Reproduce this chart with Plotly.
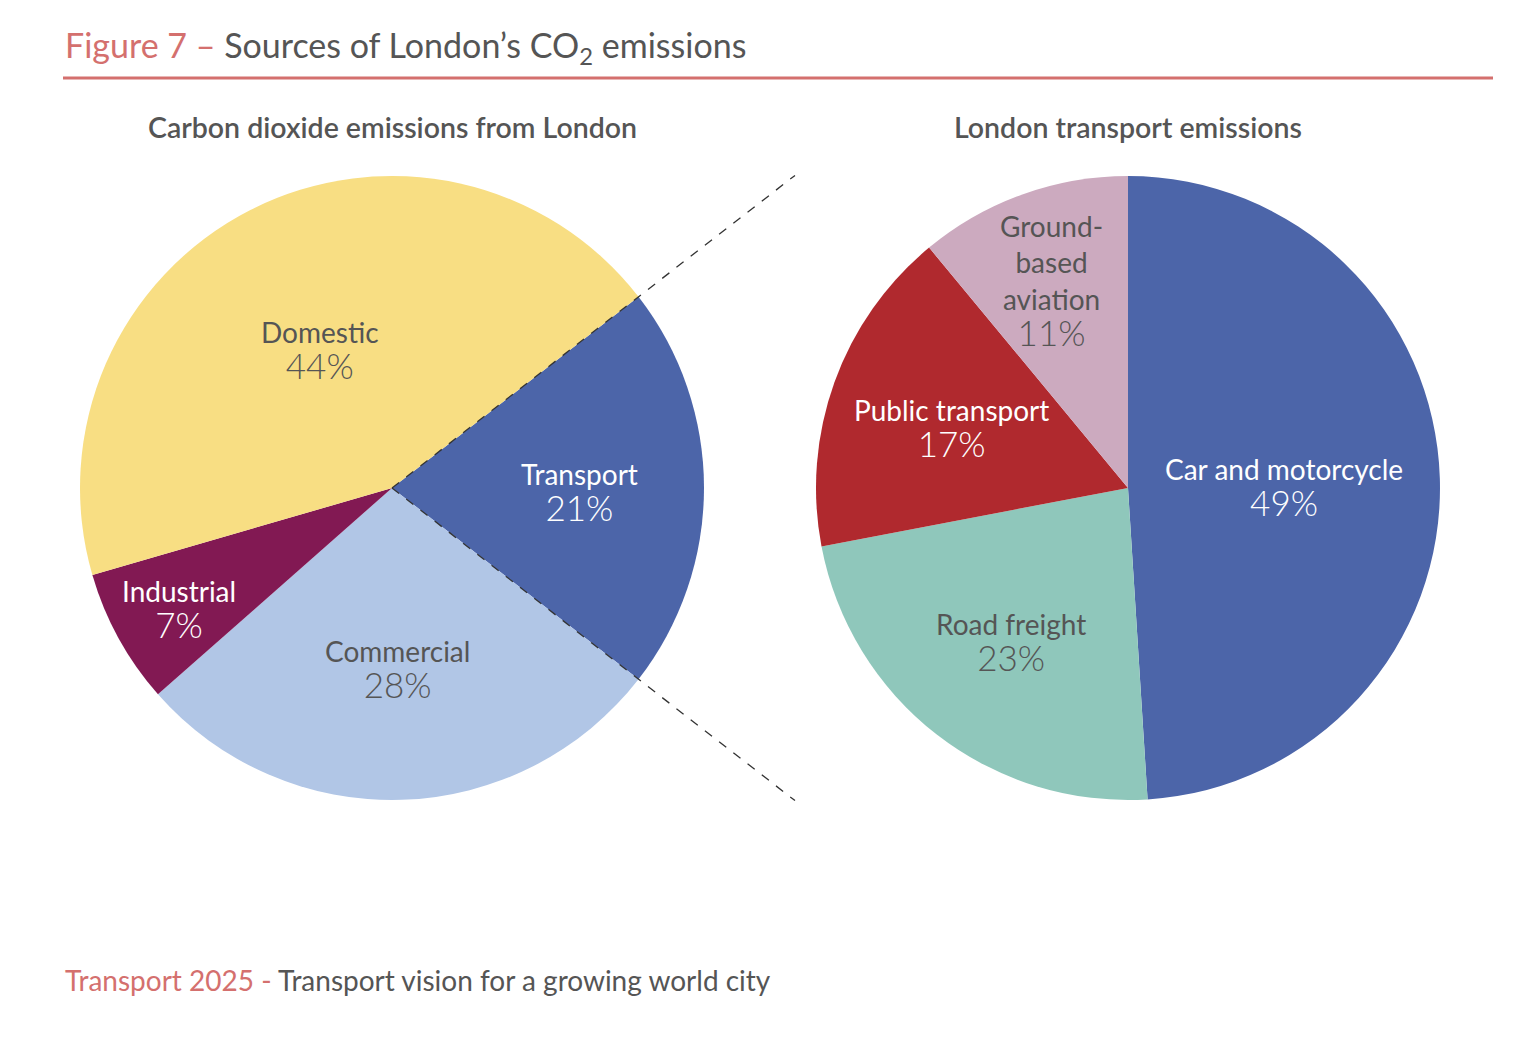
import math
import plotly.graph_objects as go

# data
london_labels = ['Transport', 'Commercial', 'Industrial', 'Domestic']
london_values = [21, 28, 7, 44]
london_colors = ['#4C65A9', '#B1C6E6', '#821953', '#F8DE83']

transport_labels = ['Car and motorcycle', 'Road freight', 'Public transport', 'Ground-based aviation']
transport_names = ['Car and motorcycle', 'Road freight', 'Public transport', 'Ground-<br>based<br>aviation']
transport_values = [49, 23, 17, 11]
transport_colors = ['#4C65A9', '#8FC7BB', '#B0292E', '#CCAABF']

# the page body keeps its default 8px margin, so the figure is drawn 8px in
PAGE_OFF = 8
W, H = 1536 - PAGE_OFF, 1038 - PAGE_OFF
GREY = '#555555'
PINK = '#D4706E'
FONT = 'Lato'

# pie geometry in window pixels
LEFT_CX, RIGHT_CX, CY, R = 392, 1128, 488, 312
CONNECTOR_X = 795

# how far out each label sits (fraction of radius)
london_label_r = [0.60, 0.57, 0.78, 0.51]
london_text_colors = ['white', GREY, 'white', GREY]
transport_label_r = [0.50, 0.61, 0.60, 0.72]
transport_text_colors = ['white', GREY, 'white', GREY]


def px_x(x):
    return (x - PAGE_OFF) / W


def px_y(y):
    return 1 - (y - PAGE_OFF) / H


def domain(cx):
    return dict(x=[px_x(cx - R), px_x(cx + R)], y=[px_y(CY + R), px_y(CY - R)])


def slice_labels(cx, names, values, rotation, radii, colors):
    total = sum(values)
    notes = []
    start = rotation
    for name, v, rr, col in zip(names, values, radii, colors):
        span = v / total * 360
        mid = math.radians(start + span / 2)
        x = cx + math.sin(mid) * rr * R
        y = CY - math.cos(mid) * rr * R
        notes.append(dict(
            x=px_x(x), y=px_y(y), xref='paper', yref='paper', yshift=-4,
            xanchor='center', yanchor='middle', showarrow=False,
            text=f"{name}<br><span style='font-size:35px;font-weight:300'>{v}%</span>",
            font=dict(family=FONT, size=28, color=col),
        ))
        start += span
    return notes


# transport slice centred on 3 o'clock
london_rotation = 90 - london_values[0] / sum(london_values) * 180

fig = go.Figure()
fig.add_trace(go.Pie(
    labels=london_labels, values=london_values, sort=False, direction='clockwise',
    rotation=london_rotation, marker=dict(colors=london_colors, line=dict(width=0)),
    textinfo='none', hoverinfo='label+percent', domain=domain(LEFT_CX), showlegend=False,
))
fig.add_trace(go.Pie(
    labels=transport_labels, values=transport_values, sort=False, direction='clockwise',
    rotation=0, marker=dict(colors=transport_colors, line=dict(width=0)),
    textinfo='none', hoverinfo='label+percent', domain=domain(RIGHT_CX), showlegend=False,
))

annotations = []
annotations += slice_labels(LEFT_CX, london_labels, london_values, london_rotation,
                            london_label_r, london_text_colors)
annotations += slice_labels(RIGHT_CX, transport_names, transport_values, 0,
                            transport_label_r, transport_text_colors)

annotations.append(dict(
    x=px_x(63), y=px_y(47), xref='paper', yref='paper', xanchor='left', yanchor='middle',
    showarrow=False,
    text=f"<span style='color:{PINK}'>Figure 7 –</span> Sources of London’s CO<sub>2</sub> emissions",
    font=dict(family=FONT, size=34, color=GREY),
))
annotations.append(dict(
    x=px_x(LEFT_CX), y=px_y(127), xref='paper', yref='paper', xanchor='center', yanchor='middle',
    showarrow=False, text='Carbon dioxide emissions from London',
    font=dict(family=FONT, size=28.5, color=GREY, weight=600),
))
annotations.append(dict(
    x=px_x(RIGHT_CX), y=px_y(127), xref='paper', yref='paper', xanchor='center', yanchor='middle',
    showarrow=False, text='London transport emissions',
    font=dict(family=FONT, size=28.5, color=GREY, weight=600),
))
annotations.append(dict(
    x=px_x(63), y=px_y(980), xref='paper', yref='paper', xanchor='left', yanchor='middle',
    showarrow=False,
    text=f"<span style='color:{PINK}'>Transport 2025 -</span> Transport vision for a growing world city",
    font=dict(family=FONT, size=28, color=GREY),
))

shapes = [dict(type='line', xref='paper', yref='paper', x0=px_x(63), x1=px_x(1493),
               y0=px_y(78), y1=px_y(78), line=dict(color=PINK, width=3))]

# dashed connectors along the transport slice edges
share = london_values[0] / sum(london_values)
for a in (london_rotation, london_rotation + share * 360):
    ang = math.radians(a)
    t = (CONNECTOR_X - LEFT_CX) / math.sin(ang)
    shapes.append(dict(
        type='line', xref='paper', yref='paper',
        x0=px_x(LEFT_CX), y0=px_y(CY),
        x1=px_x(CONNECTOR_X), y1=px_y(CY - math.cos(ang) * t),
        line=dict(color='#333333', width=1.3, dash='dash'),
    ))

fig.update_layout(
    width=W, height=H, margin=dict(l=0, r=0, t=0, b=0),
    paper_bgcolor='white', plot_bgcolor='white',
    annotations=annotations, shapes=shapes,
)

fig.write_html('out.html')
